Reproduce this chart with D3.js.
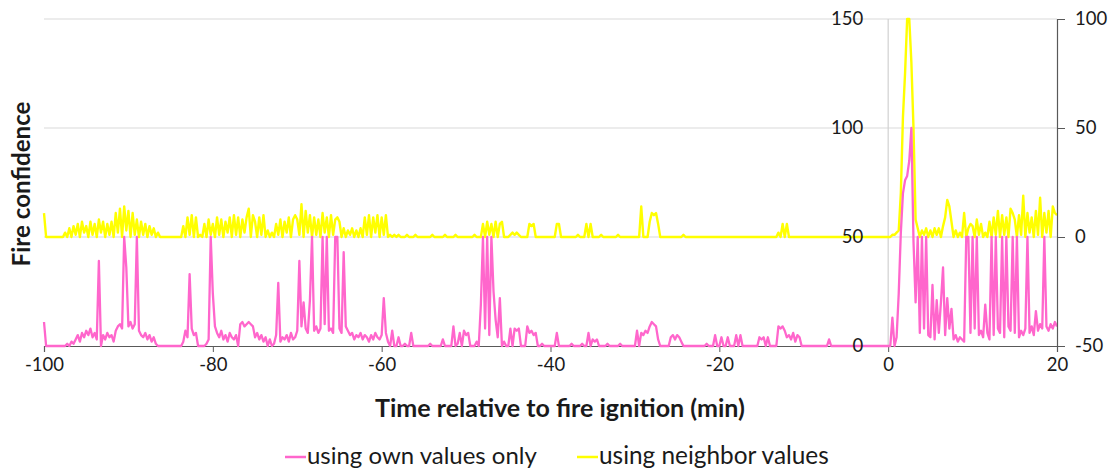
<!DOCTYPE html>
<html><head><meta charset="utf-8">
<script src="https://cdn.jsdelivr.net/npm/d3@7"></script>
<style>
body{margin:0;background:#fff}
svg{display:block}
text{font-family:Lato,"Open Sans",sans-serif}
</style>
</head><body>
<svg id="chart" width="1118" height="470"></svg>
<script>
// ---- data (sampled every 0.25 min from -100 to 20) ----
const timeStart = -100;
const timeStep = 0.25;
const ownValues = [
 11,0,0,0,0,0,0,0,0,0,0,1,0,2,1,3,5,2,6,4,
 7,5,8,4,6,3,39,0,5,3,6,4,5,2,7,9,10,8,50,36,
 9,11,8,10,50,7,5,4,6,3,5,2,4,1,0,0,0,0,0,0,
 0,0,0,0,0,0,2,7,4,33,8,5,6,0,0,0,0,1,3,50,
 24,9,6,4,7,3,5,2,6,4,3,5,0,10,11,9,10,11,10,9,
 4,6,3,5,2,4,0,3,0,1,5,29,2,4,3,5,2,6,3,4,
 7,39,9,20,8,6,21,50,7,9,6,8,50,10,50,7,8,6,50,50,
 8,6,43,9,7,5,6,3,5,4,6,3,5,4,2,5,3,6,4,3,
 5,22,6,2,0,7,0,0,4,0,0,1,0,0,6,0,0,0,0,0,
 0,0,0,1,0,0,0,0,0,3,0,0,0,0,9,0,1,6,0,7,
 5,6,0,0,0,2,0,19,50,8,50,5,50,25,12,4,22,0,2,0,
 0,8,0,8,7,8,0,0,0,9,6,7,5,6,0,0,1,0,0,0,
 0,0,0,6,0,0,0,0,0,0,1,0,0,0,0,1,0,0,6,0,
 3,2,3,0,0,0,0,1,0,0,0,0,0,1,0,0,0,0,0,0,
 0,7,0,6,5,7,6,9,11,10,9,3,0,0,0,0,0,4,5,3,
 5,4,2,0,0,0,0,0,0,0,0,0,0,0,1,0,0,0,5,0,
 0,4,0,0,4,0,0,0,5,0,5,0,0,0,0,0,0,0,0,4,
 3,4,0,4,0,0,0,0,9,8,9,7,4,5,3,6,2,5,4,0,
 0,0,0,0,0,0,0,0,0,0,0,0,3,0,0,0,0,0,0,0,
 0,0,0,0,0,0,0,0,0,0,0,0,0,0,0,0,0,0,0,0,
 0,0,13,0,4,24,52,70,76,78,85,100,48,20,50,6,50,8,50,5,
 4,28,3,21,6,20,36,5,22,8,17,3,5,2,4,3,2,50,50,6,
 50,8,50,5,7,4,19,6,3,50,5,50,8,6,50,4,50,9,7,50,
 6,50,4,7,5,8,50,6,9,5,16,7,10,8,50,9,7,10,8,11,
 9
];
const neighborValues = [
 11,0,0,0,0,0,0,0,0,0,2,0,4,0,5,1,6,0,7,2,
 5,0,7,1,6,0,8,2,7,0,6,1,7,0,11,2,13,0,14,3,
 12,0,11,1,8,0,7,1,6,0,5,1,4,0,2,0,0,0,0,0,
 0,0,0,0,0,0,5,0,9,1,10,0,9,0,1,0,6,0,8,1,
 6,0,9,1,8,0,7,2,9,0,10,1,9,0,8,2,9,13,0,10,
 7,0,9,1,10,0,3,0,2,0,6,1,8,0,7,2,9,0,8,10,
 8,1,15,0,12,2,10,0,9,1,8,0,11,2,9,0,10,1,8,9,
 7,0,4,0,3,1,4,0,3,0,4,0,9,1,10,0,9,2,10,0,
 9,1,10,0,1,0,1,0,1,0,0,0,1,0,0,0,1,0,0,0,
 0,0,0,0,1,0,0,0,0,0,1,0,0,0,0,1,0,0,0,0,
 0,0,0,0,1,0,0,0,6,0,7,1,6,0,7,0,6,7,0,0,
 0,1,2,1,2,1,0,0,0,0,6,5,6,0,0,0,0,0,0,0,
 0,0,0,6,6,0,0,0,0,0,0,0,0,1,0,0,0,6,0,6,
 0,0,0,0,1,0,0,0,0,0,0,0,1,0,0,0,0,0,0,0,
 0,0,0,14,0,0,0,7,11,10,11,6,0,0,0,0,0,0,0,0,
 0,0,0,1,0,0,0,0,0,0,0,0,0,0,0,0,0,0,0,0,
 0,0,0,0,0,0,0,0,0,0,0,0,0,0,0,0,0,0,0,0,
 0,0,0,0,0,0,0,0,2,0,6,0,6,0,0,0,0,0,0,0,
 0,0,0,0,0,0,0,0,0,0,0,0,0,0,0,0,0,0,0,0,
 0,0,0,0,0,0,0,0,0,0,0,0,0,0,0,0,0,0,0,0,
 0,0,1,1,2,3,20,55,75,100,100,80,50,8,4,0,3,1,4,0,
 3,0,4,1,4,0,5,9,17,14,7,0,3,0,2,0,11,0,4,6,
 5,0,8,1,6,0,2,0,7,0,9,1,12,0,10,1,9,0,13,11,
 8,0,10,1,19,0,11,2,9,0,12,1,18,0,11,2,12,0,14,11,
 10
];
const xTicks = [-100,-80,-60,-40,-20,0,20];
const leftTicks = [0,50,100,150];
const rightTicks = [-50,0,50,100];
const seriesNames = ["using own values only","using neighbor values"];
const seriesColors = ["#ff66cc","#ffff00"];
const xTitle = "Time relative to fire ignition (min)";
const yTitle = "Fire confidence";

// ---- layout ----
const svg = d3.select("#chart");
const L = 44, R = 1057, T = 19, B = 346;
const x = d3.scaleLinear().domain([-100,20]).range([L,R]);
const yL = d3.scaleLinear().domain([0,150]).range([B,T]);
const yR = d3.scaleLinear().domain([-50,100]).range([B,T]);

const own = ownValues.map((v,i)=>({t:timeStart+i*timeStep, v}));
const nb = neighborValues.map((v,i)=>({t:timeStart+i*timeStep, v}));

// gridlines
svg.append("g").selectAll("line").data(leftTicks.filter(d=>d>0)).join("line")
  .attr("x1",L).attr("x2",R).attr("y1",d=>yL(d)).attr("y2",d=>yL(d))
  .attr("stroke","#d9d9d9").attr("stroke-width",1.2);
// left value axis line at x=0
svg.append("line").attr("x1",x(0)).attr("x2",x(0)).attr("y1",T).attr("y2",B)
  .attr("stroke","#d0d0d0").attr("stroke-width",1.2);

// x axis
const xAxis = svg.append("g").attr("transform",`translate(0,${B})`)
  .call(d3.axisBottom(x).tickValues(xTicks).tickSize(6).tickPadding(6).tickFormat(d=>String(d)));
xAxis.select(".domain").attr("stroke","#595959").attr("stroke-width",1.2);
xAxis.selectAll(".tick line").attr("stroke","#595959");
xAxis.selectAll("text").attr("font-size",18.5).attr("fill","#1a1a1a").attr("font-family","Lato");

// series
const lineL = d3.line().x(d=>x(d.t)).y(d=>yL(d.v));
const lineR = d3.line().x(d=>x(d.t)).y(d=>yR(d.v));
svg.append("path").datum(nb).attr("d",lineR).attr("fill","none")
  .attr("stroke",seriesColors[1]).attr("stroke-width",2.4).attr("stroke-linejoin","round");
svg.append("path").datum(own).attr("d",lineL).attr("fill","none")
  .attr("stroke",seriesColors[0]).attr("stroke-width",2.3).attr("stroke-linejoin","round");

// left axis labels (next to x=0 axis)
const la = svg.append("g").attr("transform",`translate(${x(0)-8},0)`)
  .call(d3.axisLeft(yL).tickValues(leftTicks).tickSize(0).tickPadding(17));
la.select(".domain").remove();
la.selectAll("text").attr("font-size",18.5).attr("fill","#1a1a1a").attr("font-family","Lato");

// right axis
const ra = svg.append("g").attr("transform",`translate(${R},0)`)
  .call(d3.axisRight(yR).tickValues(rightTicks).tickSize(8).tickPadding(10)
  .tickFormat(d=>String(d)));
ra.select(".domain").attr("stroke","#595959").attr("stroke-width",1.2);
ra.selectAll(".tick line").attr("stroke","#595959");
ra.selectAll("text").attr("font-size",18.5).attr("fill","#1a1a1a").attr("font-family","Lato");

function fit(sel, target){
  const w = sel.node().getComputedTextLength();
  const fs = parseFloat(sel.attr("font-size"));
  sel.attr("font-size", fs*target/w);
}

// titles
const xt = svg.append("text").attr("x",560).attr("y",417).attr("text-anchor","middle")
  .attr("font-size",20).attr("font-weight","bold").attr("fill","#1a1a1a").text(xTitle);
fit(xt,370);
const yt = svg.append("text").attr("transform","translate(30,184) rotate(-90)")
  .attr("text-anchor","middle").attr("font-size",20).attr("font-weight","bold")
  .attr("fill","#1a1a1a").text(yTitle);
fit(yt,165);

// legend
const legX = [285,577];
const leg = svg.append("g").selectAll("g").data(seriesNames).join("g")
  .attr("transform",(d,i)=>`translate(${legX[i]},457)`);
leg.append("line").attr("x1",0).attr("x2",21).attr("y1",0).attr("y2",0)
  .attr("stroke",(d,i)=>seriesColors[i]).attr("stroke-width",2.5);
leg.append("text").attr("x",22).attr("y",7).attr("font-size",20).attr("fill","#1a1a1a")
  .text(d=>d).each(function(){ fit(d3.select(this),230); });
</script>
</body></html>
